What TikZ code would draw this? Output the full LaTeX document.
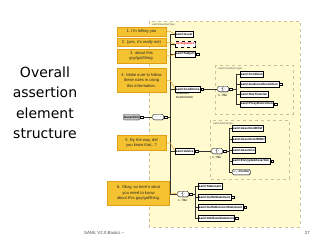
\documentclass[tikz,border=0pt]{standalone}
\usepackage{fontspec}
\setmainfont{Liberation Sans}
\newfontfamily\titlefont{DejaVu Sans}
\usetikzlibrary{shadows}
\definecolor{cream}{HTML}{FFFBCF}
\definecolor{boxedge}{HTML}{C8C39A}
\definecolor{gold}{HTML}{F5C232}
\definecolor{goldedge}{HTML}{E29E14}
\definecolor{wire}{HTML}{E8A020}
\tikzset{
  typebox/.style={draw=boxedge, fill=cream, dashed, line width=0.4pt},
  typelabel/.style={anchor=north west, font=\fontsize{2.6}{3}\selectfont, text=black!70, inner sep=0pt},
  elem/.style={draw, fill=white, line width=0.35pt, anchor=west, inner sep=0.8pt, minimum height=5.5pt, font=\fontsize{3}{3.5}\selectfont\bfseries, drop shadow={shadow xshift=0.6pt, shadow yshift=-0.6pt, fill=black!45, opacity=1}},
  optelem/.style={elem, dashed},
  rootelem/.style={elem, fill=black!22, draw=black!65, rounded corners=1pt, font=\fontsize{3.2}{3.5}\selectfont\bfseries},
  callout/.style={draw=goldedge, fill=gold, line width=0.4pt, align=center, font=\fontsize{4.1}{5.4}\selectfont, inner sep=1pt, text=black!85},
  wirec/.style={draw=wire, line width=0.5pt},
  bus/.style={draw=black!80, line width=0.35pt},
  expander/.style={draw, fill=white, minimum size=2.6pt, inner sep=0pt, line width=0.3pt, anchor=west, font=\fontsize{2.4}{2.4}\selectfont},
  comp/.style={draw, fill=white, rounded corners=1.5pt, minimum width=11pt, minimum height=5.5pt, inner sep=0pt, line width=0.35pt, font=\fontsize{3}{3}\selectfont\bfseries, drop shadow={shadow xshift=0.6pt, shadow yshift=-0.6pt, fill=black!45, opacity=1}},
  occ/.style={font=\fontsize{2.6}{3}\selectfont, inner sep=0pt},
  note/.style={font=\fontsize{2.8}{3.3}\selectfont, anchor=north west, inner sep=0pt, align=left},
  ttl/.style={font=\titlefont\fontsize{14}{19}\selectfont, anchor=base, inner sep=0pt},
  foot/.style={font=\fontsize{4.4}{5}\selectfont, text=black!70, inner sep=0pt},
}
\begin{document}
\begin{tikzpicture}[x=1pt,y=-1pt]
\useasboundingbox (0,0) rectangle (320,240);
\fill[white] (0,0) rectangle (320,240);

% title
\node[ttl] (t1) at (45,78) {Overall};
\node[ttl] (t2) at (45,98) {assertion};
\node[ttl] (t3) at (45,118) {element};
\node[ttl] (t4) at (45,138) {structure};

% outer type box
\draw[typebox] (149,21) rectangle (300,227);
\node[typelabel] (atype) at (152,23) {saml:AssertionType};

% inner type boxes
\draw[typebox] (215,65) rectangle (293,114);
\node[typelabel] (ctype) at (218,67) {saml:ConditionsType};
\draw[typebox] (210,120) rectangle (289,179);
\node[typelabel] (adtype) at (213,122) {saml:AdviceType};

% root and sequence
\node[rootelem] (root) at (123,117) {Assertion};
\node[expander] (rootx) at ([xshift=0.5pt]root.east) {-};
\node[comp] (seq) at (158,117) {$\cdot\!\cdot\!\cdot$};
\node[expander] (seqx) at ([xshift=0.3pt]seq.east) {-};
\draw[bus] (rootx.east) -- (seq.west);
\coordinate (bus1) at (170,117);
\draw[bus] (seqx.east) -- (bus1);

% children of sequence
\node[elem] (issuer) at (175,34) {saml:Issuer};
\node[optelem, text=red] (sig) at (175,44) {ds:Signature};
\node[elem] (subj) at (175,54) {saml:Subject};
\node[expander] (subjx) at ([xshift=0.4pt]subj.east) {+};
\node[elem] (cond) at (175,89) {saml:Conditions};
\node[expander] (condx) at ([xshift=0.4pt]cond.east) {-};
\node[note] (condattr) at (176,92.5) {NotBefore\\NotOnOrAfter};
\node[elem] (adv) at (175,151) {saml:Advice};
\node[expander] (advx) at ([xshift=0.4pt]adv.east) {-};
\node[comp] (stch) at (183,194) {$\cdot\!\lbrace\!\cdot$};
\node[expander] (stchx) at ([xshift=0.3pt]stch.east) {-};
\node[occ] (stocc) at (183,200) {0..$\infty$};

\draw[bus] (issuer.west -| bus1) -- (stch.west -| bus1);
\foreach \n in {issuer,sig,subj,cond,adv,stch}
  \draw[bus] (\n.west -| bus1) -- (\n.west);

% conditions
\node[comp] (cch) at (223,89) {$\cdot\!\lbrace\!\cdot$};
\node[expander] (cchx) at ([xshift=0.3pt]cch.east) {-};
\node[occ] (cocc) at (223,95) {0..$\infty$};
\draw[bus] (condx.east) -- (cch.west);
\coordinate (bus2) at (236,89);
\draw[bus] (cchx.east) -- (bus2);
\node[elem] (c1) at (240,74) {saml:Condition};
\node[elem] (c2) at (240,84) {saml:AudienceRestriction};
\node[expander] (c2x) at ([xshift=0.4pt]c2.east) {+};
\node[elem] (c3) at (240,94) {saml:OneTimeUse};
\node[elem] (c4) at (240,104) {saml:ProxyRestriction};
\node[expander] (c4x) at ([xshift=0.4pt]c4.east) {+};
\draw[bus] (c1.west -| bus2) -- (c4.west -| bus2);
\foreach \n in {c1,c2,c3,c4}
  \draw[bus] (\n.west -| bus2) -- (\n.west);

% advice
\node[comp] (ach) at (217,151) {$\cdot\!\lbrace\!\cdot$};
\node[expander] (achx) at ([xshift=0.3pt]ach.east) {-};
\node[occ] (aocc) at (217,157) {0..$\infty$};
\draw[bus] (advx.east) -- (ach.west);
\coordinate (bus3) at (229,151);
\draw[bus] (achx.east) -- (bus3);
\node[elem] (a1) at (232,128) {saml:AssertionIDRef};
\node[elem] (a2) at (232,139) {saml:AssertionURIRef};
\node[elem] (a3) at (232,150) {saml:Assertion};
\node[elem] (a4) at (232,161) {saml:EncryptedAssertion};
\node[expander] (a4x) at ([xshift=0.4pt]a4.east) {+};
\node[elem, rounded corners=1.5pt] (a5) at (232,172) {{\mdseries\color{black!60}any}~\#\#other};
\draw[bus] (a1.west -| bus3) -- (a5.west -| bus3);
\foreach \n in {a1,a2,a3,a4,a5}
  \draw[bus] (\n.west -| bus3) -- (\n.west);

% statements
\coordinate (bus4) at (195,194);
\draw[bus] (stchx.east) -- (bus4);
\node[elem] (s1) at (198,186) {saml:Statement};
\node[elem] (s2) at (198,197) {saml:AuthnStatement};
\node[expander] (s2x) at ([xshift=0.4pt]s2.east) {+};
\node[elem] (s3) at (198,207) {saml:AuthzDecisionStatement};
\node[expander] (s3x) at ([xshift=0.4pt]s3.east) {+};
\node[elem] (s4) at (198,218) {saml:AttributeStatement};
\node[expander] (s4x) at ([xshift=0.4pt]s4.east) {+};
\draw[bus] (s1.west -| bus4) -- (s4.west -| bus4);
\foreach \n in {s1,s2,s3,s4}
  \draw[bus] (\n.west -| bus4) -- (\n.west);

% callouts
\node[callout, minimum width=49pt, minimum height=9pt] (k1) at (141.5,31.5) {1. I'm telling you};
\node[callout, minimum width=49pt, minimum height=8pt] (k2) at (141.5,42.5) {2. (yes, it's really me)};
\node[callout, minimum width=49pt, minimum height=14pt] (k3) at (141.5,56) {3. about this\\guy/gal/thing.};
\node[callout, minimum width=49pt, minimum height=24pt] (k4) at (141.5,80.5) {4. Make sure to follow\\these rules in using\\this information.};
\node[callout, minimum width=49pt, minimum height=15pt] (k5) at (141.5,143) {5. By the way, did\\you know that...?};
\node[callout, minimum width=62pt, minimum height=24pt] (k6) at (138.5,193) {6. Okay, so here's what\\you need to know\\about this guy/gal/thing.};

\draw[wirec] (k1.east) -- ++(4pt,0) -- (issuer.west);
\draw[wirec] (k2.east) -- ++(4pt,0) -- (sig.west);
\draw[wirec] (k3.east) -- ++(4pt,0) -- (subj.west);
\draw[wirec] (k4.east) -- ++(4pt,0) -- (cond.west);
\draw[wirec] (k5.east) -- ++(4pt,0) -- (adv.west);
\draw[wirec] (k6.east) -- ++(3pt,0) -- (stch.west);

% footer
\node[foot, anchor=west] (f1) at (84,233) {SAML V2.0 Basics --};
\node[foot, anchor=east] (f2) at (310,233) {27};
\end{tikzpicture}
\end{document}
